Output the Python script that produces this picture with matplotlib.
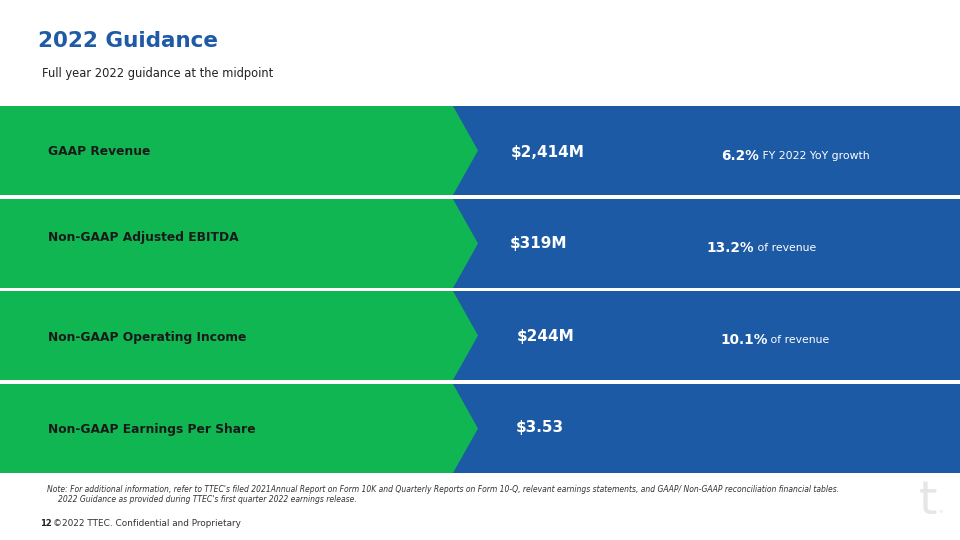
import matplotlib.pyplot as plt
from matplotlib.patches import Polygon

plt.rcParams['font.family'] = ['DejaVu Sans']

metrics = ['GAAP Revenue', 'Non-GAAP Adjusted EBITDA', 'Non-GAAP Operating Income',
           'Non-GAAP Earnings Per Share']
values = ['$2,414M', '$319M', '$244M', '$3.53']
pct_values = ['6.2%', '13.2%', '10.1%', '']
pct_notes = ['FY 2022 YoY growth', 'of revenue', 'of revenue', '']

green = '#10b652'
blue = '#1c5aa5'

fig = plt.figure(figsize=(9.6, 5.4), dpi=100)
ax = fig.add_axes([0, 0, 1, 1])
ax.set_xlim(0, 960)
ax.set_ylim(540, 0)
ax.axis('off')

# title block
ax.text(38, 41, '2022 Guidance', color='#1f5aa6', fontsize=15.5, fontweight='bold', va='center')
ax.text(42, 74, 'Full year 2022 guidance at the midpoint', color='#222222', fontsize=8.3, va='center')

# rows
row_top = [106, 199, 291, 384]
row_h = 89
label_dy = [0, -7, 1, 0]
value_dx = [0, -1, 6, 5]
value_dy = [2, 0, 1, -1]
pct_x = [721, 706, 720, 720]
pct_dy = [5, 4, 4, 0]
for i, name in enumerate(metrics):
    top = row_top[i]
    bot = top + row_h
    mid = (top + bot) / 2
    ax.add_patch(Polygon([(0, top), (960, top), (960, bot), (0, bot)],
                         closed=True, facecolor=blue, edgecolor='none'))
    ax.add_patch(Polygon([(0, top), (453, top), (478, mid), (453, bot), (0, bot)],
                         closed=True, facecolor=green, edgecolor='none'))
    ax.text(48, mid + label_dy[i] + 1, name, color='#1a1a1a', fontsize=8.8, fontweight='bold',
            va='center')
    ax.text(511 + value_dx[i], mid + value_dy[i], values[i], color='white', fontsize=11,
            fontweight='bold', va='center')
    if pct_values[i]:
        t = ax.text(pct_x[i], mid + pct_dy[i], pct_values[i], color='white', fontsize=9.8,
                    fontweight='bold', va='center')
        ax.annotate(' ' + pct_notes[i], xy=(1, 0.45), xycoords=t, va='center', ha='left',
                    color='white', fontsize=7.8)

# note and footer
ax.text(47, 490, "Note: For additional information, refer to TTEC's filed 2021Annual Report on Form 10K "
        "and Quarterly Reports on Form 10-Q, relevant earnings statements, and GAAP/ Non-GAAP "
        "reconciliation financial tables.", fontsize=5.5, style='italic', color='#333333', va='center')
ax.text(58, 500, "2022 Guidance as provided during TTEC's first quarter 2022 earnings release.",
        fontsize=5.5, style='italic', color='#333333', va='center')
ax.text(40, 523, '12', fontsize=6, fontweight='bold', color='#222222', va='center')
ax.text(53, 523, '\u00a92022 TTEC. Confidential and Proprietary', fontsize=6.4, color='#333333',
        va='center')

# logo
ax.text(928, 502, 't', fontsize=34, color='#e6e6e6', ha='center', va='center')
ax.text(941, 512, 'TM', fontsize=2.5, color='#e0e0e0', ha='center', va='center')

fig.savefig('out.png', dpi=100)
